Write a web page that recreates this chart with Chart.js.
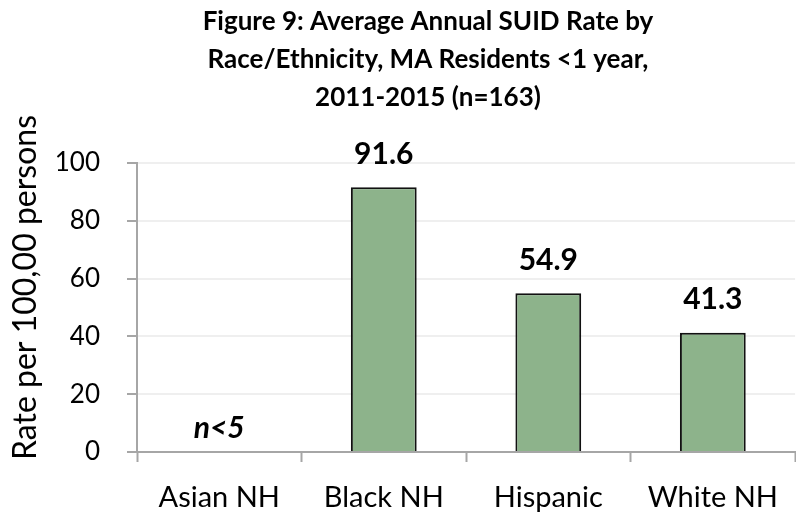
<!DOCTYPE html>
<html>
<head>
<meta charset="utf-8">
<script src="https://cdn.jsdelivr.net/npm/chart.js@4/dist/chart.umd.min.js"></script>
<style>
  html, body { margin: 0; padding: 0; background: #fff; }
  #wrap { width: 796px; height: 512px; }
</style>
</head>
<body>
<div id="wrap"><canvas id="chSuid"></canvas></div>
<script>
var CATEGORIES = ["Asian NH", "Black NH", "Hispanic", "White NH"];
var RATES = [null, 91.6, 54.9, 41.3];          // per 100,000; Asian suppressed
var NOTES = ["n<5", null, null, null];           // shown where the rate is suppressed
var Y_TICKS = [0, 20, 40, 60, 80, 100];
var TITLE = [
  "Figure 9: Average Annual SUID Rate by",
  "Race/Ethnicity, MA Residents <1 year,",
  "2011-2015 (n=163)"
];
var Y_TITLE = "Rate per 100,00 persons";

var FONT = "Lato, 'Open Sans', sans-serif";
var BAR = "#8db38b", AXIS = "#a6a6a6", GRID = "#efefef";

// value labels above each bar (or the note where there is no bar)
var barLabels = {
  id: "barLabels",
  afterDatasetsDraw: function (chart) {
    var ctx = chart.ctx, xs = chart.scales.x, ys = chart.scales.y;
    ctx.save();
    ctx.fillStyle = "#000";
    ctx.textAlign = "center";
    ctx.textBaseline = "middle";
    RATES.forEach(function (v, i) {
      var x = xs.getPixelForValue(i);
      if (v == null) {
        ctx.font = "italic bold 30px " + FONT;
        ctx.fillText(NOTES[i], x, ys.getPixelForValue(0) - 24);
      } else {
        ctx.font = "bold 30px " + FONT;
        ctx.fillText(v.toFixed(1), x, ys.getPixelForValue(v) - 33);
      }
    });
    ctx.restore();
  }
};

// y-axis title, sitting a bit above the middle of the axis
var yTitle = {
  id: "yTitle",
  afterDraw: function (chart) {
    var ctx = chart.ctx, ys = chart.scales.y;
    ctx.save();
    ctx.translate(26, (ys.top + ys.bottom) / 2 - 20);
    ctx.rotate(-Math.PI / 2);
    ctx.fillStyle = "#000";
    ctx.textAlign = "center";
    ctx.textBaseline = "middle";
    ctx.font = "32px " + FONT;
    ctx.fillText(Y_TITLE, 0, 0);
    ctx.restore();
  }
};

// nudge the title box so it centres a little right of the canvas middle
var titleShift = {
  id: "titleShift",
  afterLayout: function (chart) {
    if (chart.titleBlock) chart.titleBlock.left += 60;
  }
};

new Chart(document.getElementById("chSuid"), {
  type: "bar",
  data: {
    labels: CATEGORIES,
    datasets: [{
      data: RATES,
      backgroundColor: BAR,
      borderColor: "#111",
      borderWidth: 2,
      barPercentage: 0.4,
      categoryPercentage: 1
    }]
  },
  options: {
    responsive: true,
    maintainAspectRatio: false,
    animation: false,
    layout: { padding: 0 },
    plugins: {
      legend: { display: false },
      tooltip: { enabled: false },
      title: {
        display: true,
        text: TITLE,
        color: "#000",
        font: { family: FONT, size: 26, weight: "bold", lineHeight: 38 / 26 },
        padding: { top: 3, bottom: 46 }
      }
    },
    scales: {
      x: {
        offset: true,
        grid: { display: true, offset: true, drawOnChartArea: false, tickLength: 10, tickColor: AXIS, tickWidth: 2 },
        border: { color: AXIS, width: 2 },
        ticks: { color: "#000", font: { family: FONT, size: 29 }, padding: 18 },
        afterFit: function (s) { s.height = 60; }
      },
      y: {
        min: 0, max: 100,
        afterBuildTicks: function (s) { s.ticks = Y_TICKS.map(function (v) { return { value: v }; }); },
        grid: { color: GRID, lineWidth: 2, tickLength: 10, tickColor: AXIS, tickWidth: 2 },
        border: { color: AXIS, width: 2 },
        ticks: { color: "#000", font: { family: FONT, size: 26 }, padding: 27 },
        afterFit: function (s) { s.width = 137; }
      }
    }
  },
  plugins: [barLabels, yTitle, titleShift]
});
</script>
</body>
</html>
